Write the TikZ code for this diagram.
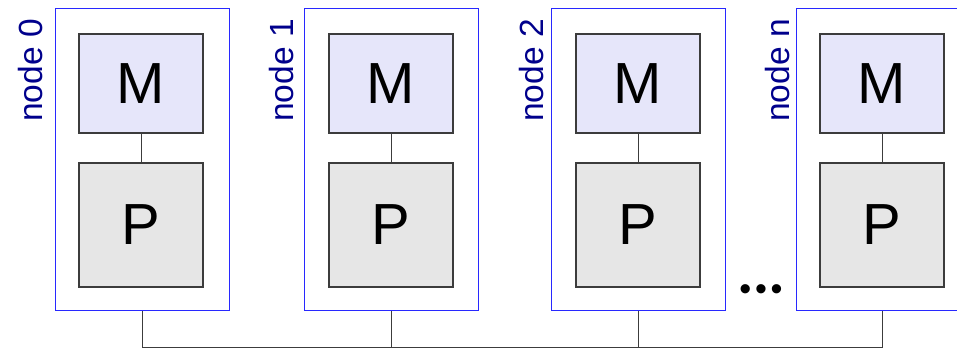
\documentclass[tikz,border=0pt]{standalone}
\usepackage{fontspec}
\setmainfont{Liberation Sans}
\definecolor{outerblue}{RGB}{40,40,255}
\definecolor{lblnavy}{RGB}{0,0,140}
\definecolor{mfill}{RGB}{230,230,250}
\definecolor{pfill}{RGB}{230,230,230}
\definecolor{edge}{RGB}{60,60,60}
\begin{document}
\begin{tikzpicture}[x=1pt,y=-1pt,
  outerbox/.style={draw=outerblue, line width=1pt, minimum width=173.5pt, minimum height=302pt, inner sep=0pt, anchor=north west},
  mbox/.style={draw=edge, fill=mfill, line width=1.2pt, minimum width=124pt, minimum height=99pt, inner sep=0pt, font=\fontsize{58}{60}\selectfont},
  pbox/.style={draw=edge, fill=pfill, line width=1.2pt, minimum width=124pt, minimum height=124pt, inner sep=0pt, font=\fontsize{58}{60}\selectfont},
  lbl/.style={text=lblnavy, font=\fontsize{33.5}{35}\selectfont, rotate=90, anchor=base east, inner sep=0pt},
  wire/.style={draw=edge, line width=1pt}]
\useasboundingbox (0,0) rectangle (957,349);
\clip (0,0) rectangle (957,349);
% outer boxes
\node[outerbox] (o0) at (55,8) {};
\node[outerbox] (o1) at (304.3,8) {};
\node[outerbox] (o2) at (551.3,8) {};
\node[outerbox] (o3) at (795.7,8) {};
% memory / processor boxes
\foreach \i/\xx in {0/141,1/391,2/638,3/882}{
  \node[mbox] (m\i) at (\xx,83.5) {M};
  \node[pbox] (p\i) at (\xx,225) {P};
  \draw[wire] (m\i.south) -- (p\i.north);
}
% labels
\node[lbl] (l0) at (42,19) {node 0};
\node[lbl] (l1) at (293.3,19) {node 1};
\node[lbl] (l2) at (543.3,19) {node 2};
\node[lbl] (l3) at (789.3,19) {node n};
% dots
\node[font=\fontsize{34}{36}\selectfont, inner sep=0pt] (dots) at (761,292.7) {\textbullet\kern3.8pt\textbullet\kern3.8pt\textbullet};
% bus
\coordinate (b0) at (o0.south |- 0,347);
\coordinate (b1) at (o1.south |- 0,347);
\coordinate (b2) at (o2.south |- 0,347);
\coordinate (b3) at (o3.south |- 0,347);
\draw[wire] (o0.south) -- (b0) -- (b3) -- (o3.south);
\draw[wire] (o1.south) -- (b1);
\draw[wire] (o2.south) -- (b2);
\end{tikzpicture}
\end{document}
